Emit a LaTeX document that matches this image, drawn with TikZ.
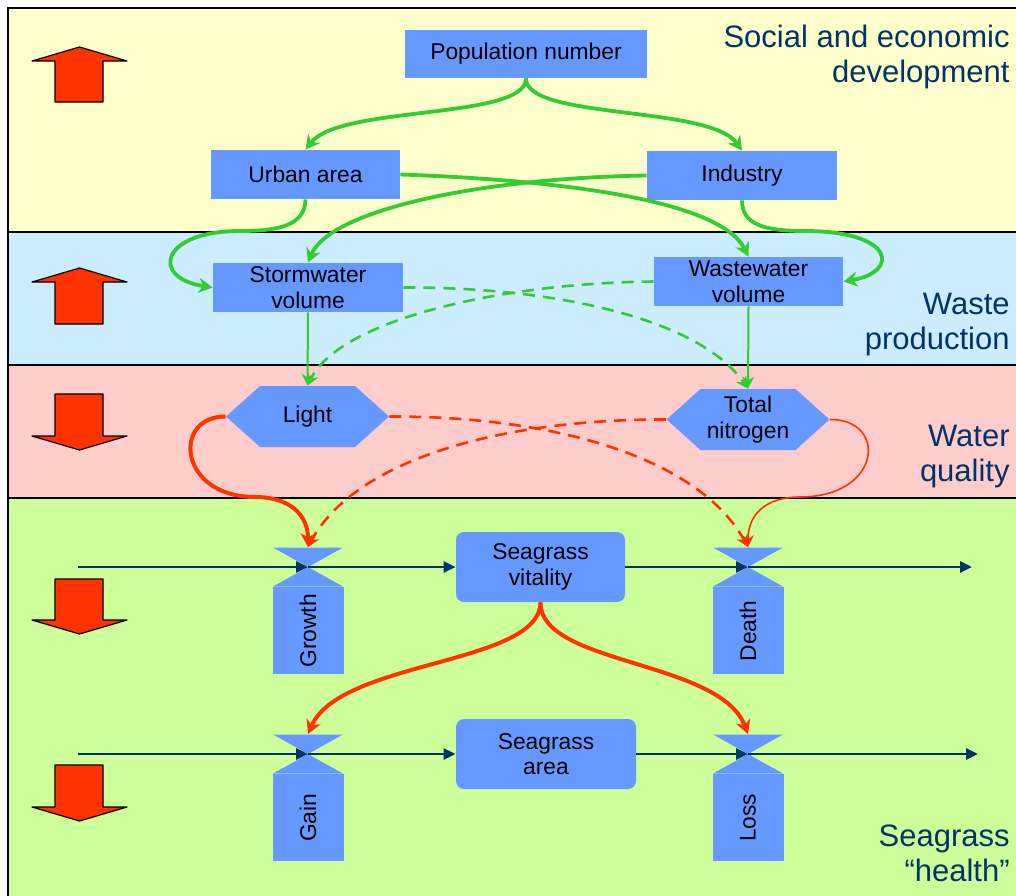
\documentclass[tikz,border=0pt]{standalone}
\usepackage{fontspec}
\setmainfont{Liberation Sans}
\usetikzlibrary{arrows.meta}
\definecolor{bandyellow}{HTML}{FFFFCC}
\definecolor{bandblue}{HTML}{CCECFF}
\definecolor{bandpink}{HTML}{FFCCCC}
\definecolor{bandgreen}{HTML}{CCFF99}
\definecolor{boxblue}{HTML}{6699FF}
\definecolor{linkgreen}{HTML}{33CC33}
\definecolor{linkred}{HTML}{FF3300}
\definecolor{navy}{HTML}{003366}

\begin{document}
\begin{tikzpicture}[x=0.5pt,y=-0.5pt,
  box/.style={fill=boxblue,inner sep=0pt,align=center,font=\fontsize{11.4}{12.8}\selectfont},
  hexbox/.style={box,fill=none,minimum width=81.5pt,minimum height=30.5pt,
    path picture={\fill[boxblue] ([xshift=17pt]path picture bounding box.north west)
      -- ([xshift=-17pt]path picture bounding box.north east) -- (path picture bounding box.east)
      -- ([xshift=-17pt]path picture bounding box.south east)
      -- ([xshift=17pt]path picture bounding box.south west) -- (path picture bounding box.west) -- cycle;}},
  valve/.style={minimum width=35pt,minimum height=19.5pt,inner sep=0pt,
    path picture={\fill[boxblue] (path picture bounding box.north west) -- (path picture bounding box.north east)
      -- (path picture bounding box.south west) -- (path picture bounding box.south east) -- cycle;}},
  valvebox/.style={box,rotate=90,anchor=east,minimum width=43.5pt,minimum height=35.5pt},
  fat/.style={fill=linkred,draw=black,line width=0.6pt,line join=round},
  bandtext/.style={text=navy,align=right,inner sep=0pt,anchor=north east,font=\fontsize{15.5}{17.5}\selectfont},
  gthick/.style={draw=linkgreen,line width=1.9pt,-{Stealth[length=7pt,width=7.5pt]}},
  gthin/.style={draw=linkgreen,line width=1pt,-{Stealth[length=6pt,width=6pt]}},
  gdash/.style={draw=linkgreen,line width=1.3pt,dash pattern=on 6pt off 4pt,-{Stealth[length=6pt,width=6pt]}},
  rthick/.style={draw=linkred,line width=2pt,-{Stealth[length=7pt,width=7.5pt]}},
  rthin/.style={draw=linkred,line width=0.8pt,-{Stealth[length=6pt,width=6pt]}},
  rdash/.style={draw=linkred,line width=1.3pt,dash pattern=on 6pt off 4pt,-{Stealth[length=6pt,width=6pt]}},
  flow/.style={draw=navy,line width=1.4pt,-{Triangle[length=6pt,width=5.5pt]}}]
  \useasboundingbox (0,0) rectangle (1016,895);
  \fill[bandyellow] (8,8) rectangle (1030,232);
  \fill[bandblue] (8,232) rectangle (1030,365);
  \fill[bandpink] (8,365) rectangle (1030,498);
  \fill[bandgreen] (8,498) rectangle (1030,910);
  \draw[line width=0.8pt] (8,8) rectangle (1030,910);
  \foreach \y in {232,365,498}
    \draw[line width=0.8pt] (8,\y) -- (1030,\y);

  \foreach \t/\s/\b in {47/61/102, 268/282/324}
    \draw[fat] (79.5,\t) -- (127,\s) -- (103,\s) -- (103,\b) -- (55,\b) -- (55,\s) -- (32,\s) -- cycle;
  \foreach \t/\s/\b in {394/436/450, 579/620/634, 765/807/821}
    \draw[fat] (55,\t) -- (103,\t) -- (103,\s) -- (127,\s) -- (79.5,\b) -- (32,\s) -- (55,\s) -- cycle;

  \node[bandtext] (social) at (1010,25) {Social and economic\\development};
  \node[bandtext] (wastetext) at (1010,293) {Waste\\production};
  \node[bandtext] (watertext) at (1010,425) {Water\\quality};
  \node[bandtext] (healthtext) at (1010,824) {Seagrass\\“health”};

  \node[box,minimum width=121pt,minimum height=24pt] (pop) at (526,54) {Population number};
  \node[box,minimum width=94.5pt,minimum height=24.5pt] (urban) at (305.5,174.5) {Urban area};
  \node[box,minimum width=95pt,minimum height=24.5pt] (industry) at (742,175.5) {Industry};
  \node[box,minimum width=95pt,minimum height=24.5pt] (storm) at (308,287.5) {Stormwater\\volume};
  \node[box,minimum width=94.5pt,minimum height=24.5pt] (waste) at (748.5,281.5) {Wastewater\\volume};
  \node[hexbox] (light) at (307.5,416.5) {Light};
  \node[hexbox] (tn) at (748,419.5) {Total\\nitrogen};
  \node[box,rounded corners=4pt,minimum width=84.5pt,minimum height=35pt] (vitality) at (540.5,567) {Seagrass\\vitality};
  \node[box,rounded corners=4pt,minimum width=90pt,minimum height=35pt] (area) at (546,754) {Seagrass\\area};

  \foreach \n/\x/\y/\t in {growth/308/567/Growth, death/748/567/Death, gain/308/754/Gain, loss/748/754/Loss}{
    \node[valve] (v-\n) at (\x,\y) {};
    \node[valvebox] (\n) at (v-\n.south) {\t};
  }

  \coordinate (src1) at (78,567);
  \coordinate (sink1) at (972,567);
  \coordinate (src2) at (78,754);
  \coordinate (sink2) at (978,754);
  \draw[flow] (src1) -- (v-growth.center);
  \draw[flow] (v-growth.center) -- (vitality.west);
  \draw[flow] (vitality.east) -- (v-death.center);
  \draw[flow] (v-death.center) -- (sink1);
  \draw[flow] (src2) -- (v-gain.center);
  \draw[flow] (v-gain.center) -- (area.west);
  \draw[flow] (area.east) -- (v-loss.center);
  \draw[flow] (v-loss.center) -- (sink2);

  \draw[gthick] (pop.south) .. controls (526,120) and (340,105) .. (urban.north);
  \draw[gthick] (pop.south) .. controls (526,120) and (710,105) .. (industry.north);
  \draw[gthick] (urban.south) .. controls (305,225) and (280,231) .. (240,231)
    .. controls (160,231) and (150,278) .. (storm.west);
  \draw[gthick] (industry.south) .. controls (742,225) and (765,231) .. (805,231)
    .. controls (895,231) and (900,272) .. (waste.east);
  \draw[gthick] (urban.east) .. controls (560,180) and (720,200) .. (waste.north);
  \draw[gthick] (industry.west) .. controls (480,178) and (330,210) .. (storm.north);
  \draw[gthin] (storm.south) -- (light.north);
  \draw[gthin] (waste.south) -- (tn.north);
  \draw[gdash] (storm.east) .. controls (560,287) and (700,320) .. (tn.north);
  \draw[gdash] (waste.west) .. controls (500,283) and (340,320) .. (light.north);

  \draw[rthick] (light.west) .. controls (172,416) and (178,497) .. (255,497)
    .. controls (290,497) and (308,515) .. (v-growth.north);
  \draw[rthin] (tn.east) .. controls (888,419) and (882,497) .. (800,497)
    .. controls (765,497) and (748,515) .. (v-death.north);
  \draw[rdash] (light.east) .. controls (560,416) and (700,460) .. (v-death.north);
  \draw[rdash] (tn.west) .. controls (500,419) and (355,460) .. (v-growth.north);
  \draw[rthick] (vitality.south) .. controls (540,665) and (340,660) .. (v-gain.north);
  \draw[rthick] (vitality.south) .. controls (540,665) and (720,660) .. (v-loss.north);
\end{tikzpicture}
\end{document}
